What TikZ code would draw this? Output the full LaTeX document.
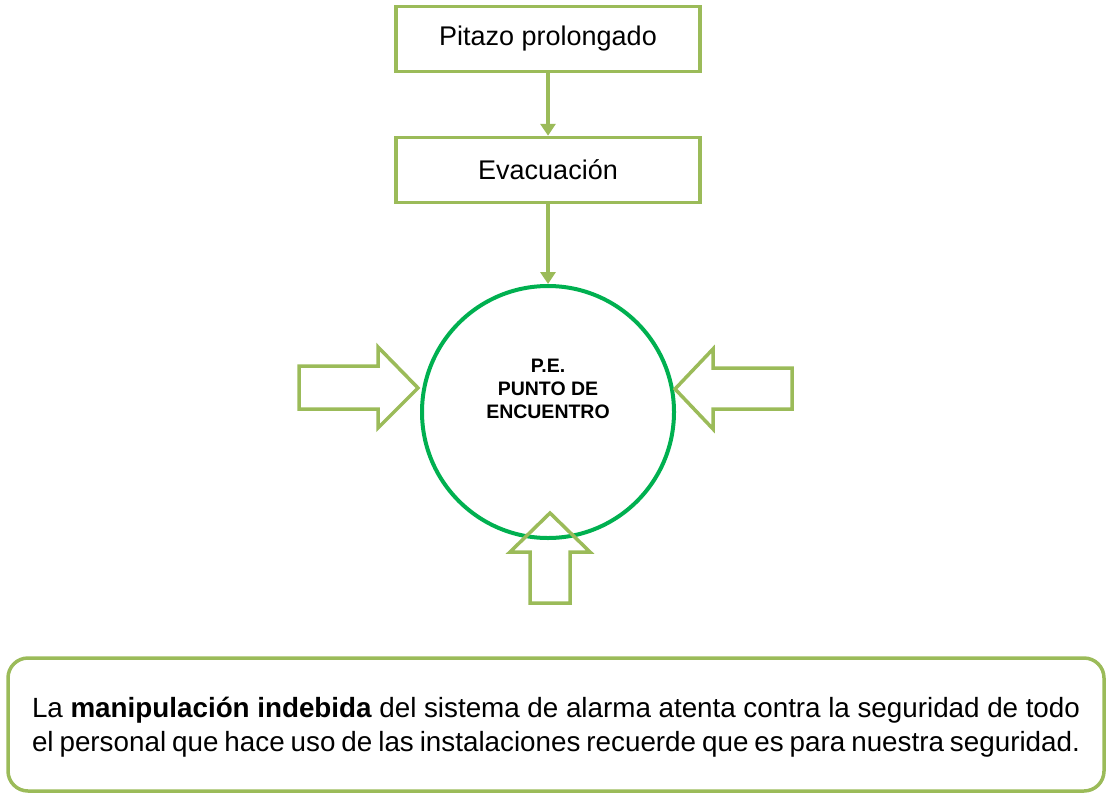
\documentclass[tikz,border=0pt]{standalone}
\usepackage{fontspec}
\setmainfont{Liberation Sans}
\usetikzlibrary{arrows.meta}
\definecolor{lg}{RGB}{155,187,89}
\definecolor{cg}{RGB}{0,176,80}
\tikzset{
  boxst/.style={draw=lg,line width=3.5pt,minimum width=304pt,minimum height=65pt,font=\fontsize{27}{31}\selectfont,inner sep=0pt},
  conn/.style={draw=lg,line width=3.5pt,-{Triangle[length=12pt,width=15pt]}},
  blk/.style={draw=lg,line width=3.5pt,line join=miter}
}
\begin{document}
\begin{tikzpicture}[x=1pt,y=-1pt]
\useasboundingbox (0,0) rectangle (1110,795);
\node[boxst] (b1) at (548,39) {Pitazo prolongado};
\node[boxst] (b2) at (548,170) {Evacuación};
\node[draw=cg,line width=4pt,circle,minimum size=252pt,inner sep=0pt] (c) at (548,412) {};
\node[align=center,inner sep=0pt,font=\bfseries\fontsize{19.5}{23}\selectfont] (ct) at (548,389) {P.E.\\PUNTO DE\\ENCUENTRO};
\draw[conn] (b1.south) -- (b2.north);
\draw[conn] (b2.south) -- (c.north);
\draw[blk] (299,366) -- (378,366) -- (378,347) -- (418,388) -- (378,428) -- (378,409) -- (299,409) -- cycle;
\draw[blk] (792,368) -- (713,368) -- (713,349) -- (675,389) -- (713,429) -- (713,409) -- (792,409) -- cycle;
\draw[blk] (530,603) -- (530,552) -- (510,552) -- (550,513) -- (590,552) -- (570,552) -- (570,603) -- cycle;
\node[draw=lg,line width=3.5pt,rounded corners=20pt,minimum width=1096pt,minimum height=133pt,inner sep=0pt] (nb) at (556,724.5) {};
\node[text width=1048pt,align=justify,inner sep=0pt,font=\fontsize{27.8}{34}\selectfont] (nt) at (556,727) {La \textbf{manipulación indebida} del sistema de alarma atenta contra la seguridad de todo el personal que hace uso de las instalaciones recuerde que es para nuestra seguridad.};
\end{tikzpicture}
\end{document}
